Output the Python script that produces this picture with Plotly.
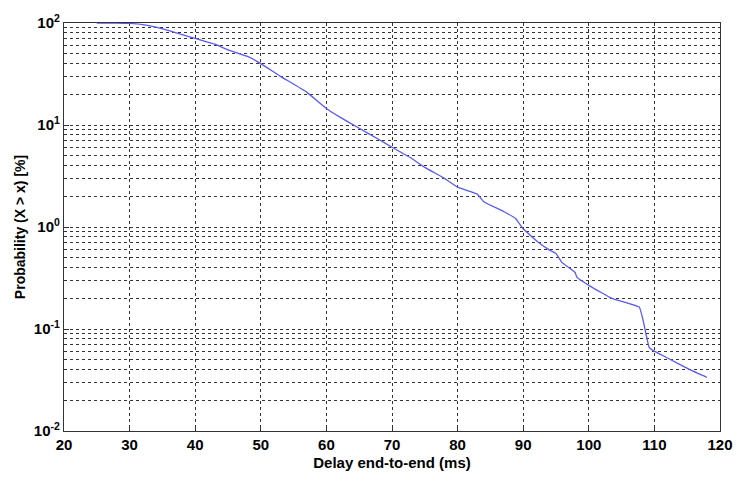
import plotly.graph_objects as go

delay_ms = [25, 28, 30, 32, 34, 36, 38, 40, 43, 45, 48, 50, 53, 57, 60, 62, 65, 68, 70,
            73, 75, 78, 80, 83, 84, 87, 88.8, 90, 92.4, 93.9, 95, 95.9, 97.9, 98.2,
            100.2, 103.5, 107.7, 108.3, 109.2, 109.9, 112, 115.4, 118]
prob_pct = [100, 99.8, 99, 96.5, 91, 84, 77, 70.6, 62, 54.6, 47, 40, 30, 21, 14.5, 12, 9.3,
            7.2, 6.05, 4.7, 3.84, 3.0, 2.46, 2.1, 1.77, 1.42, 1.22, 0.96, 0.70, 0.6,
            0.55, 0.45, 0.36, 0.32, 0.263, 0.2, 0.164, 0.12, 0.066, 0.061, 0.052,
            0.040, 0.0336]

x_ticks = [20, 30, 40, 50, 60, 70, 80, 90, 100, 110, 120]
y_tickvals = [0.01, 0.1, 1, 10, 100]
y_ticktext = ["10<sup>-2</sup>", "10<sup>-1</sup>", "10<sup>0</sup>", "10<sup>1</sup>", "10<sup>2</sup>"]

fig = go.Figure()
fig.add_trace(go.Scatter(x=delay_ms, y=prob_pct, mode="lines",
                         line=dict(color="#5a5af0", width=1.3, shape="spline", smoothing=0.3),
                         showlegend=False))

font_b = dict(family="Liberation Sans, Arial", size=15, color="black")
fig.update_layout(
    width=745, height=481,
    margin=dict(l=64, r=13, t=16, b=48),
    paper_bgcolor="white", plot_bgcolor="white",
    font=dict(family="Liberation Sans, Arial", color="black"),
    xaxis=dict(range=[20, 120], tickvals=x_ticks, ticktext=[f"<b>{v}</b>" for v in x_ticks],
               tickfont=font_b, showgrid=True, gridcolor="#333", griddash="dot", gridwidth=1,
               showline=True, linecolor="#333", linewidth=1.2, mirror=True,
               ticks="inside", ticklen=5, tickcolor="#333", zeroline=False,
               title=dict(text="<b>Delay end-to-end (ms)</b>", font=dict(size=15, family="Liberation Sans, Arial"), standoff=5)),
    yaxis=dict(type="log", range=[-2, 2], tickvals=y_tickvals,
               ticktext=[f"<b>{t}</b>" for t in y_ticktext], tickfont=font_b,
               showgrid=False, showline=True, linecolor="#333", linewidth=1.2, mirror=True,
               ticks="inside", ticklen=5, tickcolor="#333", zeroline=False,
               minor=dict(dtick="D1", showgrid=True, gridcolor="#333", griddash="dot",
                          gridwidth=1, ticks="inside", ticklen=3, tickcolor="#333"),
               title=dict(text="<b>Probability (X > x) [%]</b>", font=dict(size=14, family="Liberation Sans, Arial"), standoff=4)),
)
fig.write_html("out.html")
